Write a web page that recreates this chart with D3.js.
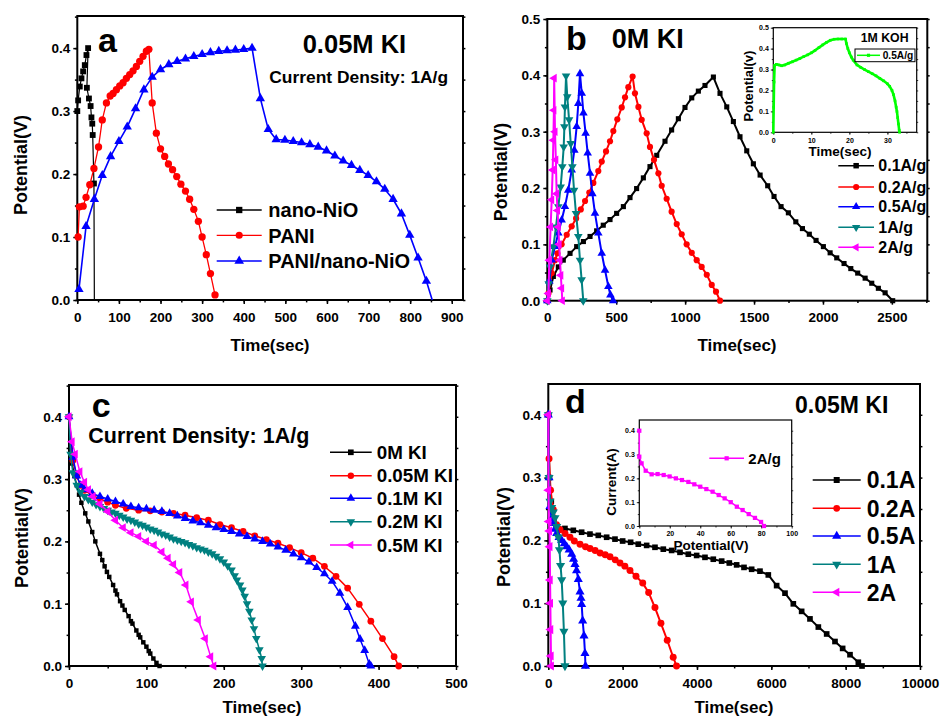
<!DOCTYPE html>
<html>
<head>
<meta charset="utf-8">
<script src="https://cdn.jsdelivr.net/npm/d3@7"></script>
<style>
  body { margin: 0; background: #fff; }
  svg { display: block; }
  text { font-family: 'Liberation Sans', Arial, sans-serif; font-weight: bold; fill: #000; }
</style>
</head>
<body>
<div id="chart"></div>
<script>
// Galvanostatic charge / discharge curves, four panels (a-d)

// ---- panel a : 0.05M KI, 1A/g ----
const aLabels = ['nano-NiO', 'PANI', 'PANI/nano-NiO'];
const aNiO = [[0,0.30],[2,0.317],[6,0.339],[10,0.352],[14,0.363],[18,0.373],[22,0.389],[26,0.40],[23,0.337],[28,0.32],[32,0.308],[34,0.29],[36,0.28],[37,0.262],[40,0.185],[41,0]];
const aPani = [[2,0.10],[5,0.148],[14,0.149],[21,0.163],[30,0.183],[40,0.209],[51,0.243],[60,0.286],[70,0.313],[79,0.324],[86,0.328],[94,0.334],[102,0.34],[110,0.345],[118,0.352],[126,0.358],[134,0.364],[142,0.371],[150,0.379],[158,0.387],[166,0.395],[172,0.398],[180,0.313],[190,0.265],[200,0.24],[210,0.228],[219,0.216],[229,0.207],[239,0.196],[249,0.184],[260,0.173],[270,0.16],[280,0.144],[291,0.125],[300,0.10],[310,0.072],[320,0.042],[331,0.008]];
const aComp = [[4,0.017],[21,0.117],[41,0.16],[60,0.198],[80,0.228],[100,0.252],[120,0.275],[140,0.304],[160,0.334],[180,0.354],[200,0.366],[220,0.374],[240,0.379],[260,0.383],[280,0.387],[300,0.39],[320,0.393],[340,0.395],[360,0.396],[380,0.397],[400,0.398],[420,0.40],[440,0.32],[459,0.271],[478,0.255],[499,0.254],[519,0.252],[539,0.25],[559,0.247],[579,0.243],[599,0.237],[619,0.229],[639,0.221],[659,0.214],[679,0.206],[699,0.198],[719,0.188],[739,0.176],[759,0.16],[779,0.137],[799,0.103],[819,0.067],[839,0.03],[853,0]];
const aXTicks = [0,100,200,300,400,500,600,700,800,900];
const aYTicks = [0,0.1,0.2,0.3,0.4];

// ---- panel b : 0M KI, different current densities ----
const bLabels = ['0.1A/g', '0.2A/g', '0.5A/g', '1A/g', '2A/g'];
const b01 = [[0,0],[20,0.019],[44,0.043],[80,0.06],[116,0.072],[165,0.084],[213,0.096],[262,0.105],[310,0.114],[358,0.124],[406,0.134],[455,0.144],[503,0.155],[552,0.167],[600,0.183],[648,0.199],[697,0.218],[745,0.238],[794,0.258],[854,0.283],[902,0.303],[951,0.323],[999,0.343],[1048,0.36],[1096,0.372],[1144,0.382],[1205,0.397],[1253,0.368],[1302,0.344],[1350,0.318],[1398,0.291],[1447,0.266],[1495,0.243],[1544,0.223],[1599,0.204],[1645,0.185],[1696,0.167],[1749,0.156],[1803,0.14],[1851,0.128],[1901,0.118],[1950,0.107],[2003,0.096],[2052,0.085],[2100,0.076],[2153,0.066],[2202,0.057],[2252,0.049],[2306,0.04],[2354,0.031],[2402,0.022],[2451,0.014],[2506,0]];
const b02 = [[0,0],[8,0.013],[32,0.049],[56,0.072],[73,0.084],[104,0.1],[141,0.117],[177,0.132],[209,0.146],[243,0.162],[274,0.177],[305,0.192],[334,0.209],[370,0.23],[395,0.247],[426,0.265],[455,0.283],[479,0.301],[508,0.322],[540,0.343],[564,0.361],[588,0.379],[619,0.398],[636,0.368],[661,0.344],[685,0.321],[721,0.297],[745,0.273],[774,0.25],[806,0.226],[830,0.204],[866,0.181],[902,0.158],[939,0.136],[975,0.118],[1011,0.1],[1048,0.085],[1084,0.072],[1120,0.06],[1157,0.046],[1193,0.028],[1224,0.016],[1253,0]];
const b05 = [[0,0],[15,0.035],[32,0.072],[56,0.096],[80,0.12],[104,0.143],[128,0.167],[152,0.196],[177,0.232],[196,0.267],[213,0.309],[225,0.35],[237,0.403],[250,0.368],[262,0.333],[278,0.297],[293,0.262],[310,0.226],[327,0.19],[346,0.155],[370,0.12],[395,0.084],[419,0.054],[443,0.025],[458,0.01],[478,0]];
const b1 = [[0,0],[10,0.03],[20,0.06],[44,0.096],[63,0.131],[80,0.167],[97,0.202],[109,0.238],[119,0.273],[124,0.309],[128,0.344],[136,0.399],[145,0.362],[158,0.321],[170,0.279],[182,0.238],[194,0.196],[208,0.155],[225,0.114],[237,0.072],[249,0.037],[261,0]];
const b2 = [[0,0],[8,0.013],[15,0.072],[24,0.131],[32,0.179],[39,0.232],[44,0.285],[48,0.338],[50,0.395],[56,0.3],[62,0.25],[68,0.19],[74,0.16],[80,0.131],[86,0.1],[92,0.072],[98,0.045],[104,0.022],[109,0]];
const bXTicks = [0,500,1000,1500,2000,2500];
const bYTicks = [0,0.1,0.2,0.3,0.4,0.5];
// inset of panel b : 1M KOH at 0.5A/g
const bInsLabel = '0.5A/g';
const bInsKOH = [[0,0],[0.1,0.12],[0.2,0.24],[0.35,0.32],[0.8,0.325],[1.5,0.322],[2.2,0.318],[3,0.322],[4,0.33],[5,0.337],[6,0.345],[7,0.353],[8,0.362],[9,0.37],[10,0.38],[11,0.392],[12,0.405],[13,0.418],[14,0.43],[15,0.44],[16,0.445],[17,0.446],[18,0.446],[19,0.446],[19.2,0.425],[19.6,0.4],[20,0.38],[20.5,0.36],[21,0.345],[22,0.322],[23,0.31],[24,0.3],[25,0.29],[26,0.28],[27,0.27],[28,0.258],[29,0.246],[30,0.232],[30.6,0.22],[31.2,0.2],[31.6,0.18],[32,0.15],[32.3,0.12],[32.5,0.1],[32.7,0.07],[32.9,0.04],[33.1,0.01],[33.2,0]];
const bInsXTicks = [0,10,20,30];
const bInsYTicks = [0,0.1,0.2,0.3,0.4,0.5];

// ---- panel c : 1A/g, KI concentration ----
const cLabels = ['0M KI', '0.05M KI', '0.1M KI', '0.2M KI', '0.5M KI'];
const c0 = [[0,0.40],[2,0.35],[4,0.325],[7,0.305],[10,0.29],[13,0.275],[16,0.262],[21,0.245],[25,0.232],[30,0.215],[34,0.2],[40,0.18],[43,0.17],[46,0.16],[49,0.151],[52,0.143],[57,0.13],[60,0.121],[62,0.115],[66,0.104],[69,0.097],[72,0.09],[77,0.08],[80,0.072],[82,0.068],[87,0.057],[90,0.05],[92,0.046],[96,0.038],[100,0.031],[103,0.024],[105,0.02],[109,0.012],[113,0.005],[117,0]];
const c005 = [[0,0.40],[5,0.33],[10,0.305],[15,0.29],[20,0.282],[30,0.274],[40,0.268],[50,0.263],[60,0.258],[74,0.253],[90,0.25],[105,0.249],[120,0.247],[135,0.245],[150,0.242],[165,0.238],[180,0.234],[195,0.227],[210,0.222],[225,0.216],[240,0.209],[255,0.203],[270,0.197],[285,0.19],[300,0.182],[315,0.173],[330,0.16],[345,0.144],[360,0.125],[375,0.099],[390,0.072],[405,0.044],[420,0.015],[426,0]];
const c01 = [[0,0.40],[5,0.335],[10,0.305],[15,0.29],[20,0.283],[30,0.277],[40,0.272],[50,0.268],[60,0.264],[70,0.26],[80,0.256],[90,0.254],[100,0.252],[110,0.25],[120,0.248],[130,0.245],[140,0.241],[150,0.237],[160,0.233],[170,0.23],[180,0.226],[190,0.222],[200,0.219],[210,0.216],[220,0.212],[230,0.208],[240,0.204],[250,0.2],[260,0.196],[270,0.191],[280,0.186],[290,0.18],[300,0.174],[310,0.167],[320,0.158],[330,0.148],[340,0.136],[350,0.117],[360,0.094],[370,0.064],[376,0.043],[382,0.025],[388,0.003],[390,0]];
const c02 = [[0,0.40],[2,0.34],[5,0.31],[10,0.29],[15,0.279],[20,0.272],[25,0.267],[30,0.263],[35,0.259],[40,0.256],[45,0.253],[50,0.25],[55,0.247],[60,0.245],[65,0.242],[70,0.239],[75,0.236],[80,0.234],[85,0.231],[90,0.228],[95,0.226],[100,0.223],[105,0.22],[110,0.218],[115,0.215],[120,0.212],[125,0.21],[130,0.207],[135,0.204],[140,0.202],[145,0.2],[150,0.198],[155,0.195],[160,0.193],[165,0.19],[170,0.188],[175,0.186],[180,0.183],[185,0.18],[190,0.176],[195,0.172],[200,0.167],[205,0.161],[210,0.154],[214,0.145],[217,0.138],[221,0.13],[224,0.122],[227,0.112],[230,0.1],[233,0.088],[236,0.074],[239,0.06],[242,0.044],[246,0.026],[249,0.012],[250,0]];
const c05 = [[0,0.40],[4,0.36],[8,0.34],[14,0.312],[20,0.295],[25,0.283],[31,0.272],[40,0.26],[50,0.248],[60,0.234],[70,0.222],[80,0.214],[90,0.208],[100,0.2],[110,0.194],[120,0.183],[128,0.173],[135,0.163],[143,0.15],[151,0.13],[158,0.103],[167,0.074],[176,0.044],[183,0.015],[187,0]];
const cXTicks = [0,100,200,300,400,500];
const cYTicks = [0,0.1,0.2,0.3,0.4];

// ---- panel d : 0.05M KI, different currents ----
const dLabels = ['0.1A', '0.2A', '0.5A', '1A', '2A'];
const d01 = [[0,0.40],[30,0.30],[80,0.262],[150,0.235],[242,0.222],[448,0.219],[673,0.216],[897,0.213],[1121,0.21],[1345,0.208],[1570,0.205],[1794,0.202],[2000,0.199],[2215,0.197],[2421,0.194],[2646,0.192],[2870,0.189],[3094,0.186],[3318,0.184],[3543,0.181],[3767,0.178],[3991,0.176],[4215,0.173],[4439,0.17],[4664,0.167],[4870,0.164],[5067,0.161],[5265,0.157],[5471,0.154],[5695,0.151],[5919,0.145],[6143,0.128],[6368,0.116],[6592,0.099],[6816,0.087],[7040,0.075],[7265,0.062],[7489,0.051],[7713,0.039],[7919,0.028],[8117,0.018],[8341,0.006],[8440,0]];
const d02 = [[0,0.40],[20,0.33],[60,0.28],[135,0.249],[220,0.225],[315,0.217],[450,0.211],[584,0.205],[700,0.199],[853,0.194],[1000,0.19],[1122,0.187],[1260,0.184],[1391,0.18],[1530,0.177],[1660,0.174],[1800,0.169],[1929,0.164],[2060,0.159],[2198,0.152],[2360,0.143],[2540,0.132],[2700,0.117],[2870,0.093],[3030,0.068],[3200,0.041],[3360,0.014],[3450,0]];
const d05 = [[0,0.40],[20,0.30],[45,0.254],[90,0.235],[135,0.227],[180,0.218],[225,0.211],[290,0.205],[360,0.2],[430,0.195],[495,0.19],[560,0.185],[630,0.178],[680,0.17],[718,0.162],[760,0.152],[807,0.138],[853,0.118],[880,0.108],[898,0.098],[925,0.072],[960,0.048],[987,0.02],[1000,0]];
const d1 = [[0,0.40],[20,0.30],[45,0.262],[90,0.252],[135,0.245],[180,0.236],[225,0.222],[270,0.205],[300,0.185],[330,0.16],[360,0.137],[390,0.1],[420,0.055],[448,0]];
const d2 = [[0,0.40],[5,0.28],[15,0.23],[30,0.215],[40,0.19],[48,0.137],[55,0.1],[63,0.058],[72,0.016],[80,0]];
const dXTicks = [0,2000,4000,6000,8000,10000];
const dYTicks = [0,0.1,0.2,0.3,0.4];
// inset of panel d : 2A/g
const dInsLabel = '2A/g';
const dIns2 = [[0,0.40],[0,0.291],[1.5,0.263],[4.2,0.232],[8.1,0.217],[12,0.218],[16,0.214],[19.9,0.208],[24,0.2],[28,0.193],[32.2,0.185],[36.1,0.175],[40,0.165],[44,0.155],[48.1,0.144],[52.1,0.13],[56,0.116],[60,0.1],[64,0.081],[67.8,0.067],[71.8,0.05],[75.9,0.034],[79.9,0.017],[81.8,0]];
const dInsXTicks = [0,20,40,60,80,100];
const dInsYTicks = [0,0.1,0.2,0.3,0.4];

// ---- colours ----
const BLACK = '#000000', RED = '#ff0000', BLUE = '#0000ff', TEAL = '#008080', MAGENTA = '#ff00ff', GREEN = '#00ff00';

const svg = d3.select('#chart').append('svg')
    .attr('width', 940)
    .attr('height', 718);
svg.append('rect').attr('width', 940).attr('height', 718).attr('fill', '#fff');

// marker path for a given shape
function marker(shape, size) {
    const type = shape === 'square' ? d3.symbolSquare
        : shape === 'circle' ? d3.symbolCircle : d3.symbolTriangle;
    return d3.symbol().type(type).size(size)();
}
const markerRotation = { down: 180, left: -90 };

// frame, ticks and tick labels of one plot area
function drawFrame(p) {
    const x = d3.scaleLinear().domain(p.xDomain).range([p.left, p.right]);
    const y = d3.scaleLinear().domain(p.yDomain).range([p.bottom, p.top]);
    const g = svg.append('g');

    const xMinor = d3.range(p.xDomain[0], p.xDomain[1], p.xMinorStep);
    const yMinor = d3.range(p.yDomain[0], p.yDomain[1] + 1e-9, p.yMinorStep);

    const style = sel => {
        sel.select('.domain').remove();
        sel.selectAll('line').attr('stroke', '#000').attr('stroke-width', p.tickW);
        sel.selectAll('text')
            .attr('font-family', "'Liberation Sans', Arial, sans-serif")
            .attr('font-weight', 'bold')
            .attr('font-size', p.tickFont);
        sel.attr('font-size', null).attr('font-family', null);
    };

    g.append('g').attr('transform', `translate(0,${p.bottom})`)
        .call(d3.axisBottom(x).tickValues(xMinor).tickSize(p.tick * 0.6).tickFormat(''))
        .call(style);
    g.append('g').attr('transform', `translate(0,${p.bottom})`)
        .call(d3.axisBottom(x).tickValues(p.xTicks).tickSize(p.tick).tickPadding(p.xPad).tickFormat(d3.format('d')))
        .call(style);
    g.append('g').attr('transform', `translate(${p.left},0)`)
        .call(d3.axisLeft(y).tickValues(yMinor).tickSize(p.tick * 0.6).tickFormat(''))
        .call(style);
    g.append('g').attr('transform', `translate(${p.left},0)`)
        .call(d3.axisLeft(y).tickValues(p.yTicks).tickSize(p.tick).tickPadding(p.yPad).tickFormat(d3.format('.1f')))
        .call(style);
    // mirrored ticks on the right edge
    g.append('g').attr('transform', `translate(${p.right},0)`)
        .call(d3.axisRight(y).tickValues(yMinor).tickSize(p.tick * 0.6).tickFormat(''))
        .call(style);

    g.append('rect')
        .attr('x', p.left).attr('y', p.top)
        .attr('width', p.right - p.left).attr('height', p.bottom - p.top)
        .attr('fill', 'none').attr('stroke', '#000').attr('stroke-width', p.frameW);

    return { x, y, g };
}

function drawSeries(frame, list) {
    const line = d3.line().x(d => frame.x(d[0])).y(d => frame.y(d[1]));
    list.forEach(s => {
        frame.g.append('path')
            .datum(s.data)
            .attr('d', line)
            .attr('fill', 'none')
            .attr('stroke', s.color)
            .attr('stroke-width', s.width)
            .attr('stroke-linejoin', 'round');
        const pts = s.bareLast ? s.data.slice(0, -1) : s.data;
        frame.g.selectAll(null)
            .data(pts)
            .enter()
            .append('path')
            .attr('d', marker(s.shape, s.size))
            .attr('transform', d => `translate(${frame.x(d[0])},${frame.y(d[1])}) rotate(${markerRotation[s.shape] || 0})`)
            .attr('fill', s.color);
    });
}

function drawLegend(items, opt) {
    const g = svg.append('g');
    items.forEach((it, i) => {
        const yy = opt.ys[i];
        g.append('line')
            .attr('x1', opt.x1).attr('x2', opt.x2)
            .attr('y1', yy).attr('y2', yy)
            .attr('stroke', it.color).attr('stroke-width', opt.width);
        g.append('path')
            .attr('d', marker(it.shape, opt.size))
            .attr('transform', `translate(${(opt.x1 + opt.x2) / 2},${yy}) rotate(${markerRotation[it.shape] || 0})`)
            .attr('fill', it.color);
        g.append('text')
            .attr('x', opt.tx).attr('y', yy)
            .attr('dy', '0.36em')
            .attr('font-size', opt.font)
            .text(it.label);
    });
    return g;
}

function label(x, y, str, size, anchor, rotate) {
    const t = svg.append('text')
        .attr('font-size', size)
        .attr('text-anchor', anchor || 'start')
        .text(str);
    if (rotate) {
        t.attr('transform', `translate(${x},${y}) rotate(-90)`).attr('dy', '0.36em');
    } else {
        t.attr('x', x).attr('y', y);
    }
    return t;
}

const mainStyle = { tick: 4, tickW: 1.5, tickFont: 13.5, xPad: 8, yPad: 3, frameW: 2 };
const insetStyle = { tick: 2.5, tickW: 0.8, tickFont: 7, xPad: 3, yPad: 2, frameW: 1.2 };

// ---------------- panel a ----------------
const fa = drawFrame(Object.assign({
    left: 77.3, right: 463, top: 16, bottom: 300,
    xDomain: [0, 927], yDomain: [0, 0.451],
    xTicks: aXTicks, yTicks: aYTicks, xMinorStep: 50, yMinorStep: 0.05
}, mainStyle));
drawSeries(fa, [
    { data: aNiO, color: BLACK, width: 1.2, shape: 'square', size: 34, bareLast: true },
    { data: aPani, color: RED, width: 1.3, shape: 'circle', size: 42 },
    { data: aComp, color: BLUE, width: 1.6, shape: 'triangle', size: 38, bareLast: true }
]);
drawLegend([
    { label: aLabels[0], color: BLACK, shape: 'square' },
    { label: aLabels[1], color: RED, shape: 'circle' },
    { label: aLabels[2], color: BLUE, shape: 'triangle' }
], { x1: 216.7, x2: 261.7, tx: 268.3, ys: [210, 235.3, 261], font: 20, size: 40, width: 1.3 });
label(98, 51.7, 'a', 34);
label(302.7, 53.3, '0.05M KI', 25.5);
label(269.3, 83, 'Current Density: 1A/g', 17.4);
label(21, 165, 'Potential(V)', 18, 'middle', true);
label(270, 351, 'Time(sec)', 17, 'middle');

// ---------------- panel b ----------------
const fb = drawFrame(Object.assign({
    left: 547.3, right: 927.3, top: 19, bottom: 300.7,
    xDomain: [0, 2757], yDomain: [0, 0.5],
    xTicks: bXTicks, yTicks: bYTicks, xMinorStep: 250, yMinorStep: 0.05
}, mainStyle));
drawSeries(fb, [
    { data: b01, color: BLACK, width: 2, shape: 'square', size: 26 },
    { data: b02, color: RED, width: 2, shape: 'circle', size: 30 },
    { data: b05, color: BLUE, width: 2, shape: 'triangle', size: 32 },
    { data: b1, color: TEAL, width: 2, shape: 'down', size: 32 },
    { data: b2, color: MAGENTA, width: 2, shape: 'left', size: 32 }
]);
drawLegend([
    { label: bLabels[0], color: BLACK, shape: 'square' },
    { label: bLabels[1], color: RED, shape: 'circle' },
    { label: bLabels[2], color: BLUE, shape: 'triangle' },
    { label: bLabels[3], color: TEAL, shape: 'down' },
    { label: bLabels[4], color: MAGENTA, shape: 'left' }
], { x1: 838.3, x2: 874, tx: 878.3, ys: [165.7, 187, 206.7, 227.3, 247.3], font: 16, size: 30, width: 1.5 });
label(566, 50, 'b', 34);
label(611.7, 48.3, '0M KI', 27);
label(501, 172, 'Potential(V)', 17.7, 'middle', true);
label(737, 351, 'Time(sec)', 17, 'middle');

// inset of b
const fbi = drawFrame(Object.assign({
    left: 773.3, right: 916.7, top: 27.7, bottom: 132.3,
    xDomain: [0, 37.7], yDomain: [0, 0.5],
    xTicks: bInsXTicks, yTicks: bInsYTicks, xMinorStep: 5, yMinorStep: 0.05
}, insetStyle));
drawSeries(fbi, [
    { data: bInsKOH, color: GREEN, width: 2.6, shape: 'square', size: 7 }
]);
svg.append('rect')
    .attr('x', 855).attr('y', 49).attr('width', 60).attr('height', 12.7)
    .attr('fill', '#fff').attr('stroke', '#000').attr('stroke-width', 1);
drawLegend([{ label: bInsLabel, color: GREEN, shape: 'square' }],
    { x1: 857, x2: 880, tx: 882.7, ys: [55.3], font: 10.2, size: 10, width: 1.5 });
label(860.7, 42.3, '1M KOH', 12.3);
label(748.7, 86, 'Potential(v)', 13, 'middle', true);
label(840, 156, 'Time(sec)', 13.5, 'middle');

// ---------------- panel c ----------------
const fc = drawFrame(Object.assign({
    left: 69, right: 456, top: 385, bottom: 666,
    xDomain: [0, 500], yDomain: [0, 0.451],
    xTicks: cXTicks, yTicks: cYTicks, xMinorStep: 50, yMinorStep: 0.05
}, mainStyle));
drawSeries(fc, [
    { data: c0, color: BLACK, width: 1.5, shape: 'square', size: 20 },
    { data: c005, color: RED, width: 1.5, shape: 'circle', size: 36 },
    { data: c01, color: BLUE, width: 1.5, shape: 'triangle', size: 34 },
    { data: c02, color: TEAL, width: 1.5, shape: 'down', size: 32 },
    { data: c05, color: MAGENTA, width: 1.5, shape: 'left', size: 34 }
]);
drawLegend([
    { label: cLabels[0], color: BLACK, shape: 'square' },
    { label: cLabels[1], color: RED, shape: 'circle' },
    { label: cLabels[2], color: BLUE, shape: 'triangle' },
    { label: cLabels[3], color: TEAL, shape: 'down' },
    { label: cLabels[4], color: MAGENTA, shape: 'left' }
], { x1: 330, x2: 371.7, tx: 376.7, ys: [452.3, 475.7, 498.3, 521.7, 545], font: 18.8, size: 32, width: 1.5 });
label(91.7, 416.7, 'c', 34);
label(88.3, 443.3, 'Current Density: 1A/g', 21.5);
label(21.7, 538, 'Potential(V)', 18, 'middle', true);
label(262, 713, 'Time(sec)', 17, 'middle');

// ---------------- panel d ----------------
const fd = drawFrame(Object.assign({
    left: 548.3, right: 920, top: 384, bottom: 666,
    xDomain: [0, 10000], yDomain: [0, 0.449],
    xTicks: dXTicks, yTicks: dYTicks, xMinorStep: 1000, yMinorStep: 0.05
}, mainStyle));
drawSeries(fd, [
    { data: d01, color: BLACK, width: 2, shape: 'square', size: 32 },
    { data: d02, color: RED, width: 2, shape: 'circle', size: 38 },
    { data: d05, color: BLUE, width: 2, shape: 'triangle', size: 36 },
    { data: d1, color: TEAL, width: 2, shape: 'down', size: 36 },
    { data: d2, color: MAGENTA, width: 2, shape: 'left', size: 36 }
]);
drawLegend([
    { label: dLabels[0], color: BLACK, shape: 'square' },
    { label: dLabels[1], color: RED, shape: 'circle' },
    { label: dLabels[2], color: BLUE, shape: 'triangle' },
    { label: dLabels[3], color: TEAL, shape: 'down' },
    { label: dLabels[4], color: MAGENTA, shape: 'left' }
], { x1: 812.7, x2: 860.7, tx: 866.7, ys: [480, 508.3, 536, 564.3, 592.3], font: 23, size: 36, width: 1.5 });
label(565, 413.3, 'd', 34);
label(795, 413.3, '0.05M KI', 23);
label(503.8, 537, 'Potential(V)', 18, 'middle', true);
label(734, 713, 'Time(sec)', 17, 'middle');

// inset of d
const fdi = drawFrame(Object.assign({
    left: 639.3, right: 791.7, top: 420, bottom: 526,
    xDomain: [0, 100], yDomain: [0, 0.445],
    xTicks: dInsXTicks, yTicks: dInsYTicks, xMinorStep: 10, yMinorStep: 0.05
}, insetStyle));
drawSeries(fdi, [
    { data: dIns2, color: MAGENTA, width: 1.5, shape: 'square', size: 18 }
]);
drawLegend([{ label: dInsLabel, color: MAGENTA, shape: 'square' }],
    { x1: 709.3, x2: 744, tx: 748.3, ys: [458.3], font: 15, size: 18, width: 1.5 });
label(611, 482, 'Current(A)', 13.5, 'middle', true);
label(711, 550, 'Potential(V)', 13.5, 'middle');
</script>
</body>
</html>
